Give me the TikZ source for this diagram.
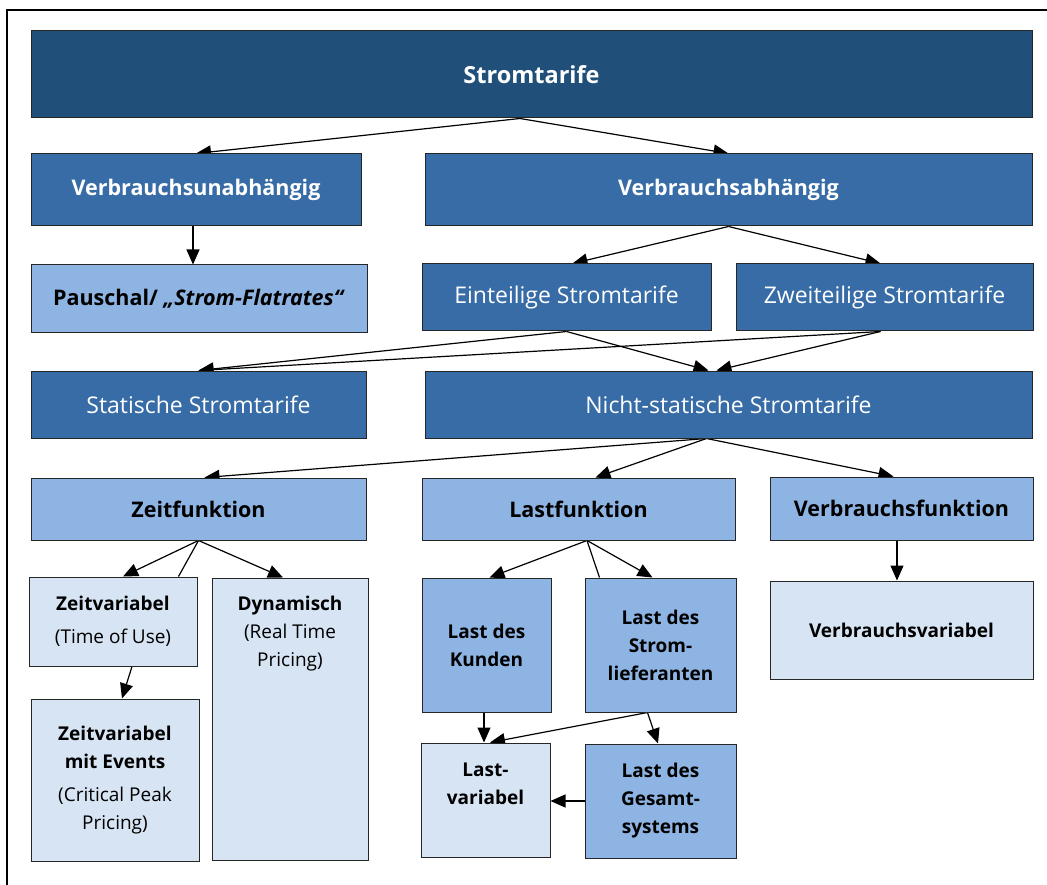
\documentclass[tikz,border=0pt]{standalone}
\usepackage{fontspec}
\setmainfont{Open Sans}
\usetikzlibrary{arrows.meta}
\pgfdeclarelayer{background}
\pgfsetlayers{background,main}
\definecolor{cTop}{RGB}{32,79,121}
\definecolor{cMid}{RGB}{55,108,166}
\definecolor{cLight}{RGB}{141,180,226}
\definecolor{cPale}{RGB}{215,228,243}
\begin{document}
\begin{tikzpicture}[x=1pt,y=-1pt,
  box/.style={draw=black!85, line width=1pt, rectangle, inner sep=2pt, align=center,
              font=\fontsize{19}{28}\selectfont},
  bigfont/.style={font=\fontsize{21.5}{28}\selectfont},
  regfont/.style={font=\fontsize{23}{28}\selectfont},
  darkbox/.style={box, fill=cTop, text=white},
  midbox/.style={box, fill=cMid, text=white},
  lightbox/.style={box, fill=cLight, text=black},
  palebox/.style={box, fill=cPale, text=black},
  arr/.style={-{Triangle[length=15pt,width=13pt]}, line width=1.2pt, draw=black},
  plain/.style={line width=1.2pt, draw=black},
  frame/.style={line width=2.5pt, draw=black}]
\useasboundingbox (0,0) rectangle (1047,885);
\draw[frame] (1047,10) -- (7,10) -- (7,885);

% row 0
\node[darkbox, font=\fontsize{23.5}{28}\selectfont, minimum width=1001pt, minimum height=87pt] (top) at (531.5,74.5) {\bfseries Stromtarife};
% row 1
\node[midbox, bigfont, minimum width=330pt, minimum height=72pt] (vu) at (196,190) {\bfseries Verbrauchsunabhängig};
\node[midbox, bigfont, minimum width=607pt, minimum height=72pt] (va) at (728.5,190) {\bfseries Verbrauchsabhängig};
% row 2
\node[lightbox, bigfont, minimum width=336pt, minimum height=68pt] (pau) at (199,299) {\bfseries Pauschal/ \textit{„Strom-Flatrates“}};
\node[midbox, regfont, minimum width=289pt, minimum height=67pt] (ein) at (566.5,297.5) {Einteilige Stromtarife};
\node[midbox, regfont, minimum width=297pt, minimum height=67pt] (zwei) at (884.5,297.5) {Zweiteilige Stromtarife};
% row 3
\node[midbox, regfont, minimum width=335pt, minimum height=67pt] (stat) at (198.5,404.5) {Statische Stromtarife};
\node[midbox, regfont, minimum width=607pt, minimum height=67pt] (nstat) at (728.5,404.5) {Nicht-statische Stromtarife};
% row 4
\node[lightbox, bigfont, minimum width=335pt, minimum height=62pt] (zf) at (198.5,509) {\bfseries Zeitfunktion};
\node[lightbox, bigfont, minimum width=313pt, minimum height=62pt] (lf) at (578.5,509) {\bfseries Lastfunktion};
\node[lightbox, bigfont, minimum width=263pt, minimum height=63pt] (vf) at (901.5,508.5) {\bfseries Verbrauchsfunktion};
% row 5
\node[palebox, minimum width=168pt, minimum height=89pt] (zv) at (113,621.5) {\textbf{Zeitvariabel}\\[5pt](Time of Use)};
\node[palebox, minimum width=156pt, minimum height=282pt,
      label={[anchor=north, yshift=-15pt, align=center, font=\fontsize{19}{28}\selectfont]north:{\textbf{Dynamisch}\\(Real Time\\Pricing)}}] (dyn) at (290,719) {};
\node[palebox, minimum width=168pt, minimum height=162pt] (zve) at (115,780) {\textbf{Zeitvariabel}\\\textbf{mit Events}\\[5pt](Critical Peak\\Pricing)};
\node[lightbox, minimum width=129pt, minimum height=134pt] (lk) at (486.5,645) {\textbf{Last des}\\\textbf{Kunden}};
\node[lightbox, minimum width=151pt, minimum height=134pt] (ls) at (660.5,645) {\textbf{Last des}\\\textbf{Strom-}\\\textbf{lieferanten}};
\node[palebox, minimum width=129pt, minimum height=114pt] (lv) at (485.5,800) {\textbf{Last-}\\\textbf{variabel}\\[4pt]};
\node[lightbox, minimum width=151pt, minimum height=114pt] (lg) at (660.5,801) {\textbf{Last des}\\\textbf{Gesamt-}\\\textbf{systems}};
\node[palebox, minimum width=263pt, minimum height=98pt] (vv) at (901.5,630) {\textbf{Verbrauchsvariabel}};

\coordinate (zvend) at ([xshift=-19pt]zv.north east);
\coordinate (lsend) at ([xshift=15pt]ls.north west);

\begin{pgfonlayer}{background}
\draw[arr] ([xshift=-11.5pt]top.south) -- (vu.north);
\draw[arr] ([xshift=-11.5pt]top.south) -- (va.north);
\draw[arr] ([xshift=-3pt]vu.south) -- ([xshift=-6pt]pau.north);
\draw[arr] (va.south) -- ([xshift=6pt]ein.north);
\draw[arr] (va.south) -- ([xshift=-4pt]zwei.north);
\draw[arr] (ein.south) -- (stat.north);
\draw[arr] (ein.south) -- ([xshift=-20pt]nstat.north);
\draw[arr] ([xshift=-4pt]zwei.south) -- (stat.north);
\draw[arr] ([xshift=-4pt]zwei.south) -- ([xshift=-12pt]nstat.north);
\draw[arr] ([xshift=-22pt]nstat.south) -- ([xshift=6pt]zf.north);
\draw[arr] ([xshift=-22pt]nstat.south) -- ([xshift=17pt]lf.north);
\draw[arr] ([xshift=-22pt]nstat.south) -- ([xshift=-8pt]vf.north);
\draw[arr] (zf.south) -- ([xshift=10pt]zv.north);
\draw[arr] (zf.south) -- ([xshift=-7pt]dyn.north);
\draw[plain] (zf.south) -- (zvend);
\draw[arr] ([xshift=19pt]zv.south) -- ([xshift=7pt]zve.north);
\draw[arr] ([xshift=8.5pt]lf.south) -- ([xshift=3pt]lk.north);
\draw[arr] ([xshift=8.5pt]lf.south) -- ([xshift=-8pt]ls.north);
\draw[plain] ([xshift=8.5pt]lf.south) -- (lsend);
\draw[arr] ([xshift=-2.5pt]lk.south) -- ([xshift=-1.5pt]lv.north);
\draw[arr] ([xshift=-13pt]ls.south) -- ([xshift=4.5pt]lv.north);
\draw[arr] ([xshift=-13pt]ls.south) -- ([xshift=-2.5pt]lg.north);
\draw[arr] (lg.west) -- (lv.east |- lg.west);
\draw[arr] ([xshift=-4.5pt]vf.south) -- ([xshift=-4.5pt]vv.north);
\end{pgfonlayer}
\end{tikzpicture}
\end{document}
